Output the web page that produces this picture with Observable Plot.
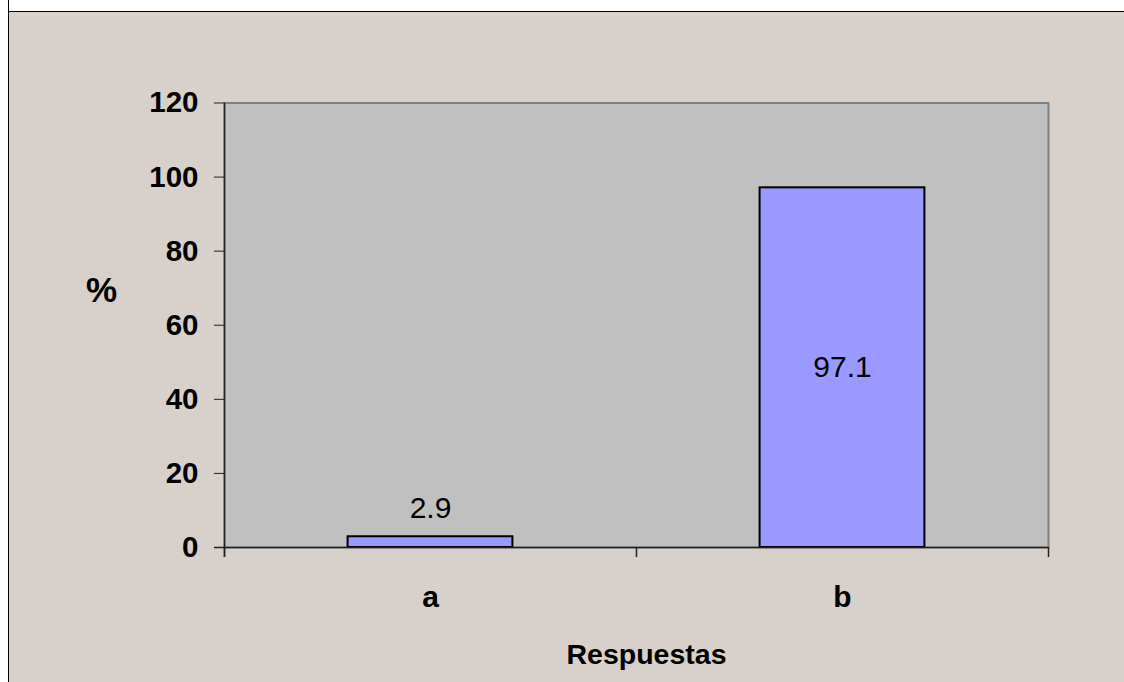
<!DOCTYPE html>
<html>
<head>
<meta charset="utf-8">
<script src="https://cdn.jsdelivr.net/npm/d3@7"></script>
<script src="https://cdn.jsdelivr.net/npm/@observablehq/plot@0.6"></script>
<style>
  html, body { margin: 0; padding: 0; background: #D8D0CA; overflow: hidden; }
  #topstrip { position: absolute; left: 0; top: 0; width: 100%; height: 11px; background: #fff; border-bottom: 1px solid #000; }
  #leftstrip { position: absolute; left: 0; top: 0; width: 8px; height: 100%; background: #fff; border-right: 1px solid #000; }
  #chart { position: absolute; left: 0; top: 0; }
  #chart svg { background: transparent !important; }
</style>
</head>
<body>
<div id="topstrip"></div><div id="leftstrip"></div><div id="chart"></div>
<script>
const categories = ["a", "b"];
const values = [2.9, 97.1];
const yTicks = [0, 20, 40, 60, 80, 100, 120];
const xTitle = "Respuestas";
const yTitle = "%";

const data = categories.map((c, i) => ({category: c, value: values[i]}));

const W = 1124, H = 682;
const mL = 224, mR = 76, mT = 102.5, mB = 135;
const step = (W - mL - mR) / categories.length;
const font = "'Liberation Sans', Arial, sans-serif";

const chart = Plot.plot({
  width: W,
  height: H,
  marginLeft: mL,
  marginRight: mR,
  marginTop: mT,
  marginBottom: mB,
  style: {background: "transparent", fontFamily: font, color: "#000", overflow: "visible"},
  x: {domain: categories, padding: 0, align: 0.5},
  y: {domain: [0, 120]},
  marks: [
    Plot.frame({fill: "#C0C0C0", stroke: "#808080", strokeWidth: 2}),
    Plot.barY(data, {x: "category", y: "value", fill: "#9999FF", stroke: "#000", strokeWidth: 2,
      insetLeft: step * 0.3, insetRight: step * 0.3}),
    // axis lines
    Plot.ruleY([0], {stroke: "#222", strokeWidth: 1.5, insetLeft: -10}),
    Plot.ruleX(categories.slice(0, 1), {x: d => d, dx: -step / 2, stroke: "#222", strokeWidth: 1.5, insetBottom: -10}),
    // category boundary ticks
    Plot.ruleX(categories, {x: d => d, y1: 0, y2: 0, dx: -step / 2, stroke: "#222", strokeWidth: 1.5, insetBottom: -10}),
    Plot.ruleX(categories.slice(-1), {x: d => d, y1: 0, y2: 0, dx: step / 2, stroke: "#222", strokeWidth: 1.5, insetBottom: -10}),
    Plot.axisY({ticks: yTicks, tickSize: 10, tickPadding: 16, label: null,
      fontSize: 29.5, fontWeight: "bold", stroke: "#222"}),
    Plot.axisX({tickSize: 0, tickPadding: 38, label: null, fontSize: 30, fontWeight: "bold"}),
    // value labels
    Plot.text(data.filter(d => d.value < 10), {x: "category", y: "value", text: d => String(d.value),
      dy: -19, lineAnchor: "bottom", fontSize: 30, fill: "#000"}),
    Plot.text(data.filter(d => d.value >= 10), {x: "category", y: d => d.value / 2, text: d => String(d.value),
      fontSize: 30, fill: "#000"}),
    // axis titles
    Plot.text([yTitle], {frameAnchor: "left", text: d => d, dx: -123, dy: -34, textAnchor: "middle",
      fontSize: 35, fontWeight: "bold", fill: "#000"}),
    Plot.text([xTitle], {frameAnchor: "bottom", text: d => d, dx: 10, dy: 116, lineAnchor: "bottom",
      fontSize: 28.5, fontWeight: "bold", fill: "#000"})
  ]
});
document.getElementById("chart").appendChild(chart);
</script>
</body>
</html>
